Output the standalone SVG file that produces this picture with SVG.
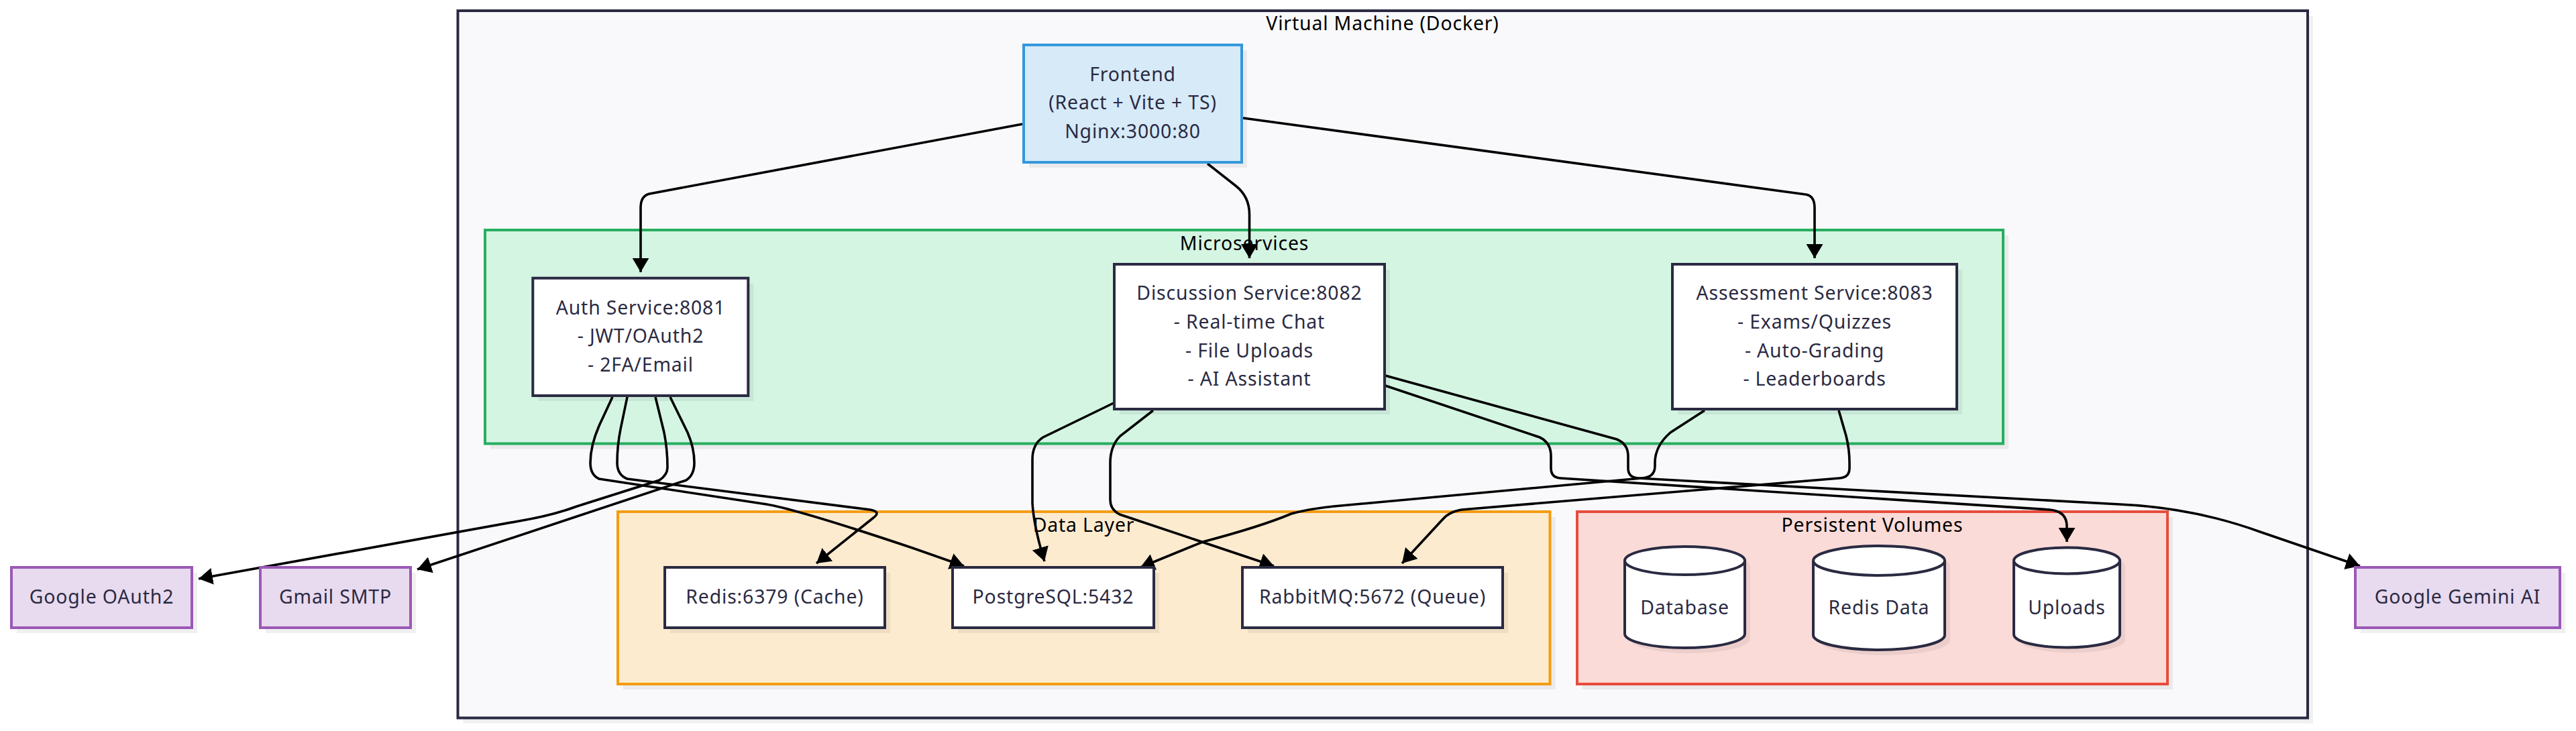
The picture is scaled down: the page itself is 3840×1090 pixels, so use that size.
<svg xmlns="http://www.w3.org/2000/svg" width="3840" height="1090" viewBox="0 0 3840 1090">
<style>
text{font-family:"Noto Sans","Open Sans","Liberation Sans",sans-serif;font-size:28.4px;letter-spacing:.85px;text-anchor:middle}
.t{fill:#2a2a42}.c{fill:#000}
.sh{fill:#000;fill-opacity:.06;stroke:none}
.n{fill:#fff;stroke:#2a2a42;stroke-width:4}
.fe{fill:#d6eaf8;stroke:#3498db;stroke-width:4}
.ext{fill:#e8daef;stroke:#9b59b6;stroke-width:4}
.vm{fill:#f9f9fb;stroke:#2a2a42;stroke-width:4}
.ms{fill:#d5f5e3;stroke:#27ae60;stroke-width:4}
.dl{fill:#fdebd0;stroke:#f39c12;stroke-width:4}
.pv{fill:#fadbd8;stroke:#e74c3c;stroke-width:4}
.e{fill:none;stroke:#000;stroke-width:3.6;marker-end:url(#a)}
</style>
<defs>
<marker id="a" markerUnits="userSpaceOnUse" viewBox="0 0 21 25" markerWidth="21" markerHeight="25" refX="21" refY="12.5" orient="auto"><path d="M0,0L21,12.5L0,25Z" fill="#000"/></marker>
</defs>
<rect width="3840" height="1090" fill="#fff"/>
<g id="cluster-vm"><rect class="sh" x="690.5" y="24" width="2757.5" height="1054.5"/><rect class="vm" x="682.5" y="16" width="2757.5" height="1054.5"/><text class="c" x="2061" y="45">Virtual Machine (Docker)</text></g>
<g id="cluster-microservices"><rect class="sh" x="731" y="351" width="2263" height="318.5"/><rect class="ms" x="723" y="343" width="2263" height="318.5"/><text class="c" x="1855" y="373">Microservices</text></g>
<g id="cluster-data"><rect class="sh" x="929" y="771" width="1389.5" height="257"/><rect class="dl" x="921" y="763" width="1389.5" height="257"/><text class="c" x="1615.5" y="792.5">Data Layer</text></g>
<g id="cluster-volumes"><rect class="sh" x="2359" y="771" width="880" height="257"/><rect class="pv" x="2351" y="763" width="880" height="257"/><text class="c" x="2791" y="792.5">Persistent Volumes</text></g>
<g id="connectors">
<path class="e" d="M1524,185L968,289Q955,292 955,310L955,405.7"/>
<path class="e" d="M1800,244L1842,277Q1862.5,293 1862.5,320L1862.5,385"/>
<path class="e" d="M1853,176L2692,290Q2705,292 2705,310L2705,385"/>
<path class="e" d="M913,592L893,635Q880,665 880,690Q880,708 893,714L1143,752Q1190,760 1360,817L1437,844"/>
<path class="e" d="M935,592L925,640Q920,665 920,690Q920,708 935,714L1297,760Q1314,763 1302,772L1217,840"/>
<path class="e" d="M977,592L990,645Q995,670 995,697Q995,708 983,716L860,755Q825,768 779,776L296,863"/>
<path class="e" d="M999,592L1025,645Q1035,668 1035,690Q1035,708 1023,716L860,770L622,849"/>
<path class="e" d="M1660,601L1555,652Q1539,662 1539,685L1539,750Q1541,785 1557,837"/>
<path class="e" d="M1719,612L1670,650Q1655,665 1655,690L1655,745Q1655,760 1669,767L1899,844"/>
<path class="e" d="M2065,575L2295,652Q2312,660 2312,680L2312,698Q2312,712 2326,713L3055,760Q3081,762 3081,785L3081,808"/>
<path class="e" d="M2065,560L2410,655Q2427,662 2427,680L2427,698Q2427,712 2442,713L3160,752Q3270,757 3369,793L3518,844"/>
<path class="e" d="M2541,612L2490,645Q2467,665 2467,690L2467,695Q2467,712 2447,713L1988,755Q1950,759 1925,766Q1880,785 1793,808L1700,846"/>
<path class="e" d="M2741,612L2752,650Q2757,670 2757,690L2757,698Q2757,712 2742,713L2179,760Q2160,763 2150,775L2090,840"/>
</g>
<g id="frontend"><rect class="sh" x="1534" y="75" width="325" height="175"/><rect class="fe" x="1526" y="67" width="325" height="175"/><text class="t" x="1688.5" y="121">Frontend</text><text class="t" x="1688.5" y="163">(React + Vite + TS)</text><text class="t" x="1688.5" y="206">Nginx:3000:80</text></g>
<g id="auth"><rect class="sh" x="802.3" y="422.7" width="321" height="175.3"/><rect class="n" x="794.3" y="414.7" width="321" height="175.3"/><text class="t" x="955" y="468.7">Auth Service:8081</text><text class="t" x="955" y="511">- JWT/OAuth2</text><text class="t" x="955" y="553.5">- 2FA/Email</text></g>
<g id="discussion"><rect class="sh" x="1669" y="402" width="403" height="216"/><rect class="n" x="1661" y="394" width="403" height="216"/><text class="t" x="1862.5" y="447">Discussion Service:8082</text><text class="t" x="1862.5" y="490">- Real-time Chat</text><text class="t" x="1862.5" y="532.5">- File Uploads</text><text class="t" x="1862.5" y="575">- AI Assistant</text></g>
<g id="assessment"><rect class="sh" x="2501" y="402" width="424" height="216"/><rect class="n" x="2493" y="394" width="424" height="216"/><text class="t" x="2705" y="447">Assessment Service:8083</text><text class="t" x="2705" y="490">- Exams/Quizzes</text><text class="t" x="2705" y="532.5">- Auto-Grading</text><text class="t" x="2705" y="575">- Leaderboards</text></g>
<g id="redis"><rect class="sh" x="999" y="854" width="328" height="90"/><rect class="n" x="991" y="846" width="328" height="90"/><text class="t" x="1155" y="900">Redis:6379 (Cache)</text></g>
<g id="postgres"><rect class="sh" x="1428" y="854" width="300" height="90"/><rect class="n" x="1420" y="846" width="300" height="90"/><text class="t" x="1570" y="900">PostgreSQL:5432</text></g>
<g id="rabbitmq"><rect class="sh" x="1860" y="854" width="388" height="90"/><rect class="n" x="1852" y="846" width="388" height="90"/><text class="t" x="2046" y="900">RabbitMQ:5672 (Queue)</text></g>
<g id="db-volume"><path class="sh" d="M2430,844a89.5,21 0 0 1 179,0v109a89.5,21 0 0 1 -179,0Z"/><path class="n" d="M2422,836a89.5,21 0 0 1 179,0v109a89.5,21 0 0 1 -179,0Z"/><path class="n" style="fill:none" d="M2422,836a89.5,21 0 0 0 179,0"/><text class="t" x="2511.5" y="915.5">Database</text></g>
<g id="redis-volume"><path class="sh" d="M2711,844a98,22 0 0 1 196,0v111a98,22 0 0 1 -196,0Z"/><path class="n" d="M2703,836a98,22 0 0 1 196,0v111a98,22 0 0 1 -196,0Z"/><path class="n" style="fill:none" d="M2703,836a98,22 0 0 0 196,0"/><text class="t" x="2801" y="915.5">Redis Data</text></g>
<g id="uploads-volume"><path class="sh" d="M3010,844a79,19.5 0 0 1 158,0v110a79,19.5 0 0 1 -158,0Z"/><path class="n" d="M3002,836a79,19.5 0 0 1 158,0v110a79,19.5 0 0 1 -158,0Z"/><path class="n" style="fill:none" d="M3002,836a79,19.5 0 0 0 158,0"/><text class="t" x="3081" y="915.5">Uploads</text></g>
<g id="oauth"><rect class="sh" x="25" y="854" width="269" height="90"/><rect class="ext" x="17" y="846" width="269" height="90"/><text class="t" x="151.5" y="900">Google OAuth2</text></g>
<g id="smtp"><rect class="sh" x="396" y="854" width="224" height="90"/><rect class="ext" x="388" y="846" width="224" height="90"/><text class="t" x="500" y="900">Gmail SMTP</text></g>
<g id="gemini"><rect class="sh" x="3519" y="854" width="305" height="90"/><rect class="ext" x="3511" y="846" width="305" height="90"/><text class="t" x="3663.5" y="900">Google Gemini AI</text></g>
</svg>
